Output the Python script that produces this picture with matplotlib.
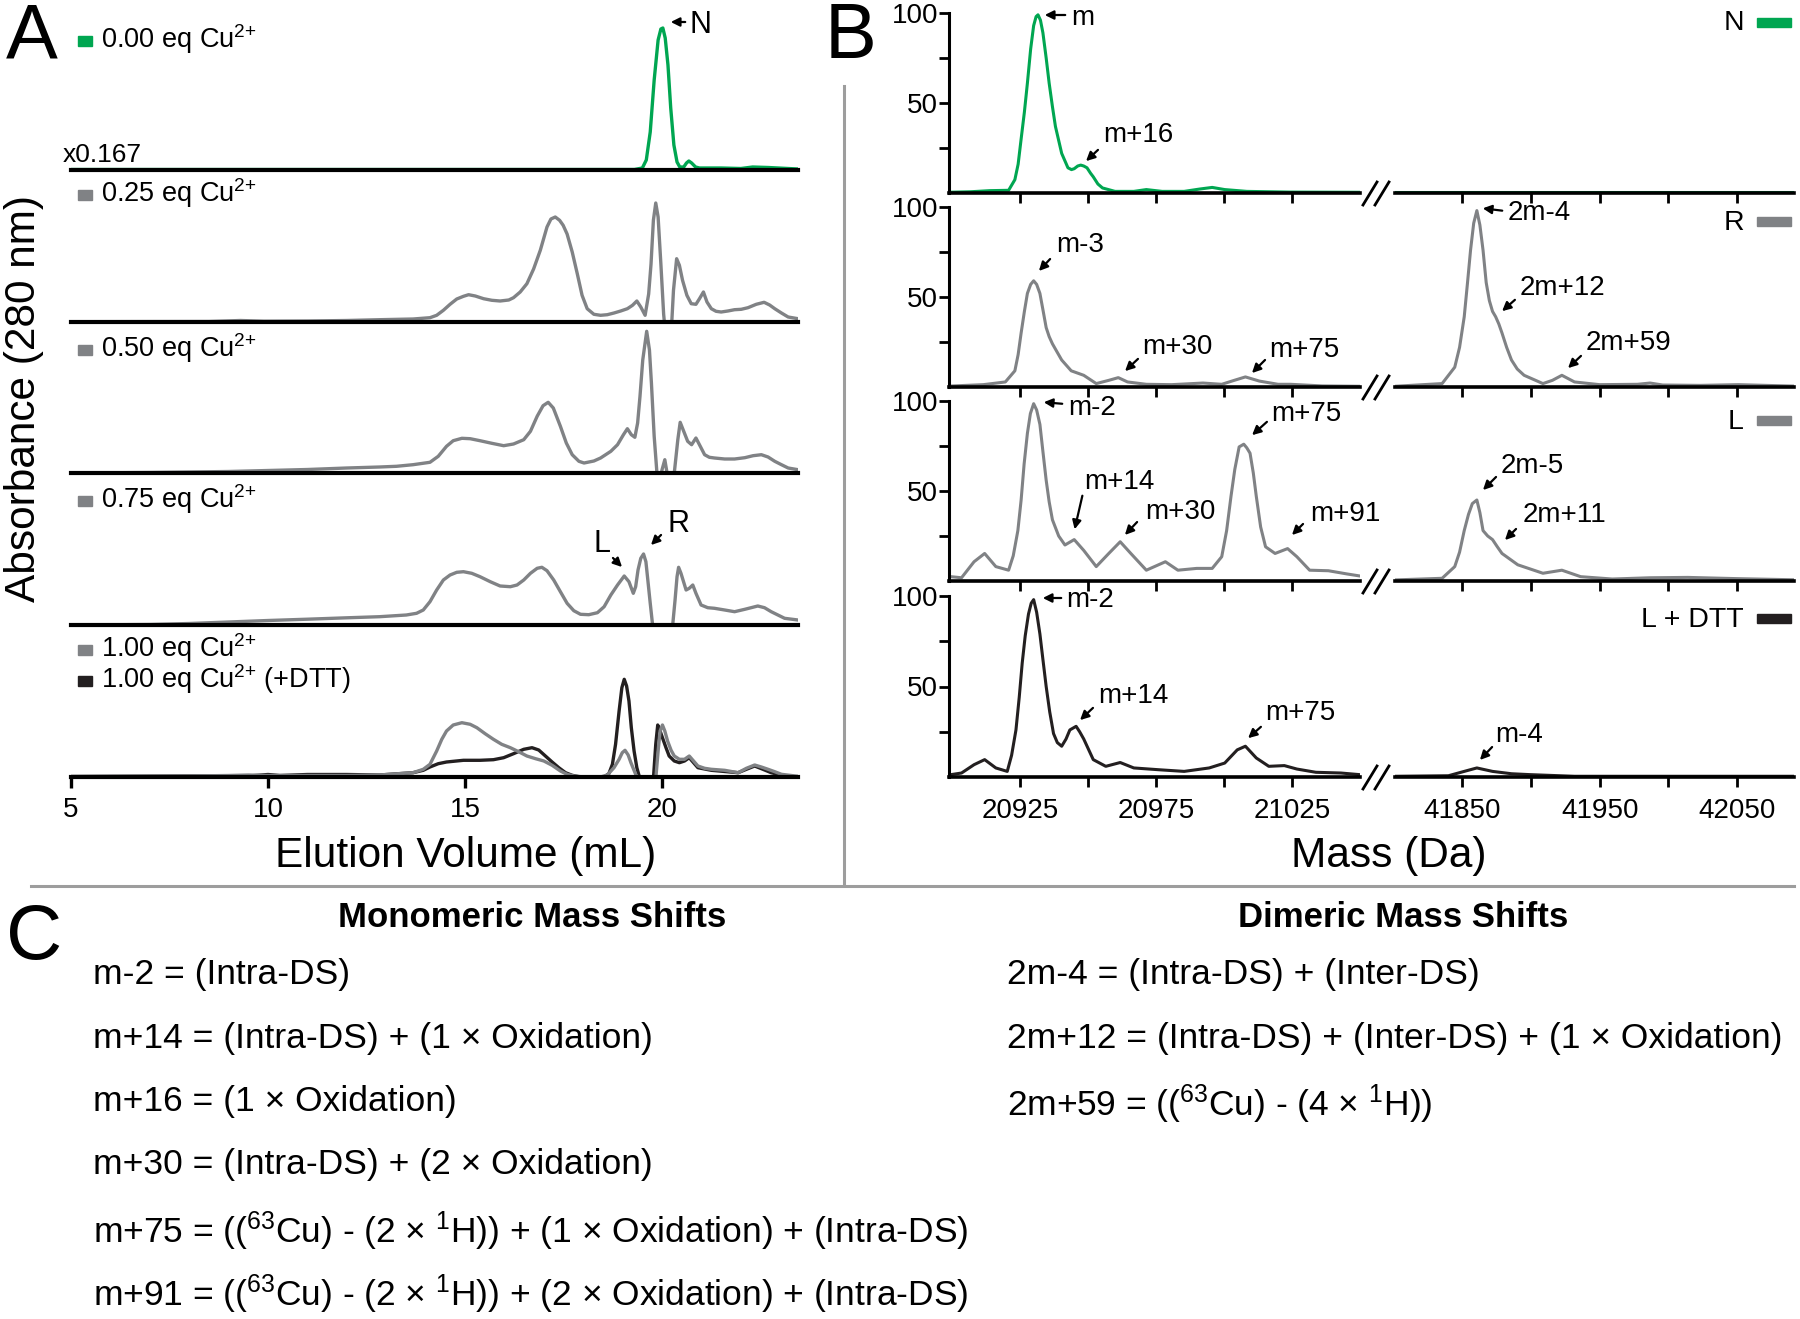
import matplotlib
matplotlib.use('Agg')
import matplotlib.pyplot as plt
from matplotlib.patches import Rectangle, FancyArrowPatch
from matplotlib.lines import Line2D

plt.rcParams['font.family'] = ['Liberation Sans', 'DejaVu Sans']
plt.rcParams['mathtext.fontset'] = 'custom'
plt.rcParams['mathtext.rm'] = 'Liberation Sans'
plt.rcParams['mathtext.it'] = 'Liberation Sans:italic'
plt.rcParams['mathtext.bf'] = 'Liberation Sans:bold'

W, H = 1800, 1319
GREEN = '#00a651'
GREY = '#808285'
BLACK = '#231f20'
SEP = '#9d9d9d'

# ---------------- panel A: SEC traces (elution volume mL, absorbance a.u.) ----------------
vol_000 = [5, 10, 15, 19.3, 19.5, 19.6, 19.7, 19.8, 19.9, 19.97, 20.02, 20.08, 20.15, 20.22,
           20.3, 20.38, 20.45, 20.55, 20.62, 20.68, 20.75, 20.85, 20.95, 21.5, 22.0, 22.3,
           22.7, 23.45]
abs_000 = [0.5, 0.5, 0.5, 0.5, 2, 10, 38, 90, 130, 141, 142, 132, 105, 62,
           25, 8, 3, 3, 7, 9, 7, 3, 2, 2, 1.5, 3,
           2.5, 1]

vol_025 = [5, 8.5, 9.3, 9.9, 11, 12, 12.83, 13.68, 14.11, 14.28, 14.45, 14.62, 14.79, 14.96,
           15.09, 15.26, 15.47, 15.68, 15.89, 16.11, 16.23, 16.40, 16.57, 16.74, 16.91, 17.08,
           17.18, 17.29, 17.40, 17.49, 17.59, 17.72, 17.85, 17.97, 18.10, 18.27, 18.44, 18.61,
           18.78, 18.95, 19.12, 19.25, 19.36, 19.46, 19.57, 19.66, 19.72, 19.78, 19.84, 19.90,
           19.97, 20.04, 20.07, 20.14, 20.24, 20.29, 20.37, 20.44, 20.52, 20.63, 20.74, 20.86,
           20.95, 21.05, 21.14, 21.25, 21.37, 21.50, 21.67, 21.84, 22.01, 22.18, 22.39, 22.59,
           22.73, 22.86, 23.03, 23.20, 23.45]
abs_025 = [0.3, 0.5, 1.5, 0.8, 1, 1.5, 2.3, 3, 4.3, 6.7, 11.7, 17.7, 23, 25.7,
           27.3, 26, 23.3, 21.7, 21, 22, 24.3, 30, 38.3, 53, 71.7, 95,
           103, 105, 101.7, 96.7, 88, 70, 48, 26.7, 13.3, 7.7, 6.7, 7.3,
           9, 11, 13.3, 16.7, 21, 15, 6.7, 28, 58, 101.7, 119, 105,
           58, 8, -5, -15, -5, 31.7, 63.3, 56.7, 41.7, 26.7, 18.3, 17.7,
           23.3, 30, 20, 13.3, 10.7, 10, 11, 12.3, 12.7, 14.3, 17.7, 19.7,
           17, 13.3, 9, 5, 3.3]

vol_050 = [5, 7, 9, 10, 11, 12, 12.83, 13.26, 13.68, 14.11, 14.32, 14.53, 14.70, 14.92,
           15.13, 15.38, 15.68, 15.98, 16.23, 16.49, 16.66, 16.83, 16.98, 17.11, 17.24, 17.42,
           17.57, 17.72, 17.89, 18.02, 18.27, 18.44, 18.70, 18.87, 19.02, 19.12, 19.22, 19.31,
           19.38, 19.44, 19.51, 19.61, 19.68, 19.73, 19.80, 19.87, 19.93, 20.00, 20.07, 20.14,
           20.20, 20.31, 20.40, 20.46, 20.55, 20.65, 20.75, 20.86, 20.97, 21.08, 21.20, 21.33,
           21.59, 21.84, 22.10, 22.31, 22.52, 22.69, 22.86, 23.03, 23.20, 23.45]
abs_050 = [0, 0.5, 1.5, 2.5, 3.5, 5, 6, 6.7, 8.3, 10.7, 16.7, 26.7, 32.3, 34.7,
           34.3, 32.3, 29.7, 27.3, 29, 33.3, 41.7, 56.7, 67.3, 70.7, 65, 46.7,
           30, 18.3, 11.7, 10, 12, 15, 21.7, 28.3, 38.3, 44.3, 38.3, 35.7,
           50, 76.7, 113, 141.7, 123, 90, 36.7, 0, -10, 3.3, 13.3, -3,
           -7, 0, 33.3, 50.7, 41.7, 31.7, 28.3, 35, 26.7, 18.3, 15.7, 15,
           14, 14, 15.3, 17.3, 18.3, 16, 11.7, 8.3, 5, 3.3]

vol_075 = [5, 7, 8, 9, 10, 11, 12, 12.83, 13.51, 13.77, 13.94, 14.11, 14.28, 14.45, 14.62,
           14.79, 14.96, 15.17, 15.38, 15.64, 15.89, 16.15, 16.32, 16.49, 16.66, 16.83, 16.95,
           17.08, 17.25, 17.42, 17.59, 17.76, 17.93, 18.14, 18.36, 18.53, 18.70, 18.87, 19.04,
           19.16, 19.27, 19.33, 19.39, 19.46, 19.53, 19.59, 19.63, 19.70, 19.76, 19.89, 20.14,
           20.27, 20.33, 20.38, 20.42, 20.48, 20.61, 20.69, 20.78, 20.86, 20.99, 21.16, 21.33,
           21.59, 21.84, 22.10, 22.43, 22.60, 22.77, 22.94, 23.11, 23.45]
abs_075 = [0, 0.5, 1.5, 3, 4.5, 5.8, 7.2, 8.3, 10, 11.7, 15, 23.3, 35, 45, 50,
           52.7, 53.3, 51.7, 48.3, 43.3, 39, 38.3, 40, 45, 51.7, 56.7, 57.7,
           54.3, 45, 33.3, 21.7, 14.3, 10.7, 10.3, 12.3, 18.3, 30, 40, 49,
           43.3, 31.7, 38.3, 55, 66.7, 71, 63.3, 48.3, 21.7, 0, -15, -15,
           0, 25, 48.3, 57.7, 51.7, 35, 36.7, 40, 31.7, 20, 17.3, 16.7,
           15, 13.3, 15.7, 19, 17.3, 13.3, 10, 6.7, 5]

vol_100 = [5, 8, 9, 9.5, 10, 11, 12, 12.83, 13.68, 13.94, 14.11, 14.28, 14.41, 14.53, 14.70,
           14.92, 15.13, 15.30, 15.51, 15.72, 15.93, 16.15, 16.36, 16.57, 16.79, 17.00, 17.21,
           17.42, 17.59, 17.76, 18.02, 18.44, 18.61, 18.78, 18.91, 18.99, 19.06, 19.14, 19.21,
           19.33, 19.42, 19.63, 19.84, 19.90, 19.95, 20.01, 20.07, 20.14, 20.23, 20.31, 20.44,
           20.57, 20.69, 20.80, 20.91, 21.08, 21.25, 21.59, 21.93, 22.14, 22.35, 22.52, 22.69,
           22.86, 23.03, 23.45]
abs_100 = [0.5, 1, 1.5, 2, 1.5, 1.5, 1.5, 2, 4.3, 7.7, 12.7, 26, 37.7, 46, 52,
           54.3, 52.7, 49.3, 43.3, 37.7, 32.7, 29.3, 25.3, 21, 18.3, 16, 11.7,
           6, 2.7, 1, 0, 0, 2, 9.3, 17.7, 24.3, 26.7, 22, 14.3,
           2.7, -2, -7, -2, 26, 46, 52, 46, 36, 26.7, 21, 17.7,
           17.7, 21, 16, 11, 8.7, 7.7, 6.7, 4.3, 8.7, 12, 10, 7.7,
           5.3, 2.7, 0.7]

vol_dtt = [5, 8, 9.5, 10, 10.3, 11, 12, 12.83, 13.68, 13.94, 14.11, 14.32, 14.53, 14.96, 15.38,
           15.72, 15.98, 16.23, 16.49, 16.70, 16.87, 17.04, 17.21, 17.38, 17.55, 17.72, 17.93,
           18.53, 18.65, 18.74, 18.82, 18.91, 18.98, 19.04, 19.10, 19.16, 19.22, 19.29, 19.36,
           19.44, 19.63, 19.78, 19.84, 19.89, 19.95, 20.01, 20.10, 20.18, 20.31, 20.44, 20.57,
           20.69, 20.80, 20.91, 21.25, 21.93, 22.14, 22.35, 22.56, 22.77, 23.11, 23.45]
abs_dtt = [0.5, 1, 1, 2.5, 1.5, 2.5, 2.5, 2, 4.3, 6.7, 10, 13.3, 15, 16.7, 16.7,
           17.3, 19.3, 23.3, 27.7, 29.3, 27, 21, 15, 9.3, 4.3, 1.7, 0,
           0, 3.3, 12.7, 32.7, 66, 89.3, 97.7, 91, 76, 49.3, 26, 9.3,
           -2, -7, -2, 32.7, 52, 46, 39.3, 29.3, 21, 16, 14.3, 16,
           19.3, 14.3, 9.3, 6.7, 4.3, 7.7, 11, 7.7, 4.3, 1, 0]

sec_panels = [
    [(vol_000, abs_000, GREEN)],
    [(vol_025, abs_025, GREY)],
    [(vol_050, abs_050, GREY)],
    [(vol_075, abs_075, GREY)],
    [(vol_dtt, abs_dtt, BLACK), (vol_100, abs_100, GREY)],
]
sec_labels = [
    [('0.00 eq Cu$^{2{+}}$', GREEN)],
    [('0.25 eq Cu$^{2{+}}$', GREY)],
    [('0.50 eq Cu$^{2{+}}$', GREY)],
    [('0.75 eq Cu$^{2{+}}$', GREY)],
    [('1.00 eq Cu$^{2{+}}$', GREY), ('1.00 eq Cu$^{2{+}}$ (+DTT)', BLACK)],
]
sec_ticks = [5, 10, 15, 20]

# ---------------- panel B: deconvoluted mass spectra (Da, relative intensity) ----------------
mass_n_lo = [20899.0, 20907.0, 20913.9, 20920.9, 20923.2, 20924.4, 20925.5, 20926.7, 20927.8,
             20929.0, 20930.1, 20931.0, 20931.7, 20932.6, 20933.5, 20934.7, 20935.8, 20937.0,
             20938.1, 20940.4, 20942.7, 20944.0, 20945.0, 20946.3, 20947.4, 20948.5, 20949.7,
             20951.0, 20952.0, 20953.7, 20955.4, 20960.0, 20966.9, 20971.5, 20977.3, 20985.4,
             20991.1, 20995.7, 21000.3, 21008.4, 21024.5, 21049.9]
int_n_lo = [0.4, 0.7, 1.3, 1.5, 7.4, 16, 30, 45, 61,
            80, 93, 98, 99, 96, 89, 75, 61, 48,
            37, 22, 14, 13, 13.5, 15, 15.5, 15, 14,
            11, 9, 5, 2.8, 0.9, 0.9, 1.9, 0.9, 0.9,
            2.2, 3.1, 1.9, 0.9, 0.5, 0.4]
mass_n_hi = [41801, 41900, 42000, 42097]
int_n_hi = [0.3, 0.3, 0.3, 0.3]

mass_r_lo = [20899.0, 20911.6, 20919.7, 20923.2, 20924.4, 20925.5, 20926.7, 20927.8, 20929.0,
             20930.1, 20931.2, 20932.4, 20933.5, 20934.7, 20935.8, 20937.0, 20938.5, 20940.4,
             20943.9, 20948.5, 20953.1, 20957.7, 20961.2, 20964.6, 20971.5, 20980.8, 20992.3,
             20999.2, 21003.8, 21007.9, 21013.0, 21019.9, 21024.5, 21036.1, 21049.9]
int_r_lo = [0.5, 1.3, 2.8, 9, 18, 30, 42, 52, 57,
            59, 57, 52, 43, 33, 28, 24, 20, 15,
            9, 6.5, 1.9, 3.7, 5.2, 2.8, 1.5, 1.3, 2.2,
            1.5, 3.7, 5.6, 3.3, 1.5, 1.5, 0.6, 0.4]
mass_r_hi = [41800.9, 41835.3, 41844.5, 41848.0, 41851.4, 41853.8, 41856.0, 41858.3, 41860.6,
             41862.8, 41865.1, 41867.4, 41869.7, 41872.0, 41874.3, 41876.6, 41878.9, 41882.3,
             41885.8, 41890.0, 41895.0, 41908.7, 41915.6, 41922.5, 41931.7, 41950.0, 41977.5,
             41986.7, 41995.9, 42023.4, 42050.9, 42096.8]
int_r_hi = [0.4, 1.9, 11, 22, 39, 58, 76, 91, 98,
            90, 76, 58, 48, 42, 39, 35, 30, 22,
            15, 10, 6.5, 1.9, 3.7, 6.5, 2.8, 1.3, 1.5,
            2.2, 1.1, 0.9, 1.3, 0.4]

mass_l_lo = [20899.7, 20903.6, 20908.2, 20912.1, 20916.2, 20920.9, 20922.6, 20924.3, 20925.5,
             20926.6, 20927.8, 20928.9, 20930.1, 20931.2, 20932.4, 20933.5, 20934.7, 20935.8,
             20937.0, 20939.3, 20941.6, 20945.0, 20948.5, 20953.1, 20957.7, 20961.9, 20965.8,
             20971.5, 20978.5, 20983.1, 20990.0, 20995.7, 20999.2, 21001.0, 21002.6, 21004.0,
             21005.6, 21007.3, 21008.4, 21009.6, 21010.8, 21011.9, 21013.5, 21015.3, 21018.8,
             21023.4, 21026.8, 21031.5, 21038.4, 21045.3, 21049.9]
int_l_lo = [2.4, 1.8, 10.7, 15.3, 8, 6, 14, 28, 45,
            65, 82, 93, 98.5, 95, 87, 72, 56, 44,
            34, 25, 20, 23, 17, 8, 15.3, 21.8, 15.3,
            6, 10.7, 6, 7, 7, 13.5, 28, 47, 62,
            74.5, 76, 74, 71, 60, 47, 30, 19, 15.3,
            18, 13.5, 6, 5.7, 3.9, 2.8]
mass_l_hi = [41800.9, 41835.3, 41844.5, 41848.0, 41851.4, 41854.5, 41857.3, 41860.6, 41862.8,
             41865.1, 41868.5, 41872.0, 41875.5, 41878.9, 41890.4, 41908.7, 41922.5, 41936.2,
             41959.2, 41986.7, 42014.2, 42050.9, 42096.8]
int_l_hi = [0.6, 1.5, 8, 16, 28, 37, 43, 45, 38,
            28, 25, 23, 19, 15.3, 9, 4.3, 6, 2.4,
            1.1, 1.8, 2, 1.3, 0.6]

mass_d_lo = [20899.7, 20903.6, 20908.2, 20912.1, 20916.2, 20920.4, 20922.0, 20923.6, 20924.8,
             20925.9, 20927.0, 20928.2, 20929.2, 20930.1, 20931.2, 20932.4, 20933.5, 20934.7,
             20936.0, 20937.4, 20938.8, 20940.4, 20942.0, 20943.4, 20945.7, 20947.0, 20948.5,
             20952.0, 20956.6, 20961.9, 20966.9, 20976.2, 20985.4, 20994.6, 21000.3, 21004.9,
             21007.9, 21011.9, 21016.5, 21022.2, 21026.8, 21033.8, 21043.0, 21049.9]
int_d_lo = [1.3, 2.2, 6.8, 9.6, 5, 3.1, 12, 26, 44,
            63, 78, 90, 96, 98, 91, 79, 65, 50,
            36, 24, 19, 17, 21, 26, 28, 25, 21,
            9.6, 5.9, 8, 5, 4, 3.1, 5, 7.7, 15,
            17, 10.5, 5.9, 6.3, 4.4, 2.6, 2.2, 1.3]
mass_d_hi = [41800.9, 41839.9, 41851.4, 41860.6, 41872.0, 41885.8, 41899.5, 41931.7, 42096.8]
int_d_hi = [0.4, 0.7, 3.1, 5, 3.1, 1.8, 1.3, 0.4, 0.4]

ms_rows = [
    ('N', GREEN, mass_n_lo, int_n_lo, mass_n_hi, int_n_hi),
    ('R', GREY, mass_r_lo, int_r_lo, mass_r_hi, int_r_hi),
    ('L', GREY, mass_l_lo, int_l_lo, mass_l_hi, int_l_hi),
    ('L + DTT', BLACK, mass_d_lo, int_d_lo, mass_d_hi, int_d_hi),
]
lo_ticks = [20925, 20950, 20975, 21000, 21025]
lo_labels = ['20925', '', '20975', '', '21025']
hi_ticks = [41850, 41900, 41950, 42000, 42050]
hi_labels = ['41850', '', '41950', '', '42050']

# peak labels in B: (text, text x, text baseline, arrow tail, arrow head)  [pixels]
ms_notes = [
    ('m', 1071, 25, (1068, 15), (1042, 15)),
    ('m+16', 1103, 142, (1100, 148), (1084, 163)),
    ('m-3', 1056, 252, (1052, 257), (1037, 273)),
    ('m+30', 1142, 354, (1140, 357), (1123, 373)),
    ('m+75', 1269, 357, (1267, 358), (1250, 375)),
    ('2m-4', 1508, 220, (1505, 211), (1480, 208)),
    ('2m+12', 1520, 295, (1517, 298), (1500, 313)),
    ('2m+59', 1586, 350, (1583, 354), (1566, 370)),
    ('m-2', 1068, 415, (1065, 404), (1041, 402)),
    ('m+75', 1271, 421, (1269, 420), (1250, 437)),
    ('m+14', 1084, 489, (1083, 493), (1074, 532)),
    ('m+30', 1145, 519, (1139, 520), (1123, 537)),
    ('m+91', 1310, 521, (1305, 522), (1290, 537)),
    ('2m-5', 1501, 473, (1498, 475), (1481, 492)),
    ('2m+11', 1523, 522, (1518, 527), (1503, 542)),
    ('m-2', 1066, 607, (1064, 598), (1040, 598)),
    ('m+14', 1098, 703, (1095, 706), (1078, 722)),
    ('m+75', 1265, 720, (1263, 725), (1246, 740)),
    ('m-4', 1495, 742, (1494, 745), (1478, 762)),
]

# ---------------- panel C text ----------------
mono_lines = [
    'm-2 = (Intra-DS)',
    'm+14 = (Intra-DS) + (1 \u00d7 Oxidation)',
    'm+16 = (1 \u00d7 Oxidation)',
    'm+30 = (Intra-DS) + (2 \u00d7 Oxidation)',
    'm+75 = (($^{63}$Cu) - (2 \u00d7 $^{1}$H)) + (1 \u00d7 Oxidation) + (Intra-DS)',
    'm+91 = (($^{63}$Cu) - (2 \u00d7 $^{1}$H)) + (2 \u00d7 Oxidation) + (Intra-DS)',
]
mono_y = [984, 1048, 1111, 1174, 1243, 1306]
di_lines = [
    '2m-4 = (Intra-DS) + (Inter-DS)',
    '2m+12 = (Intra-DS) + (Inter-DS) + (1 \u00d7 Oxidation)',
    '2m+59 = (($^{63}$Cu) - (4 \u00d7 $^{1}$H))',
]
di_y = [984, 1048, 1116]

fig = plt.figure(figsize=(W / 100, H / 100), dpi=100)


def fx(x):
    return x / W


def fy(y):
    return 1 - y / H


def px_axes(left, top, right, bottom):
    return fig.add_axes([fx(left), fy(bottom), (right - left) / W, (bottom - top) / H])


def arrow(tail, head):
    fig.add_artist(FancyArrowPatch((fx(tail[0]), fy(tail[1])), (fx(head[0]), fy(head[1])),
                                   transform=fig.transFigure, arrowstyle='-|>',
                                   mutation_scale=13, lw=1.6, color='black'))


# ---------------- draw panel A ----------------
sec_base = [170, 322, 473, 625, 777]
sec_label_y = [[48], [202], [357], [508], [657, 688]]
for i, traces in enumerate(sec_panels):
    ax = px_axes(71, sec_base[i] - 150, 798, sec_base[i])
    for vol, ab, col in traces:
        ax.plot(vol, ab, color=col, lw=2.4, solid_joinstyle='round')
    ax.set_xlim(5, 23.45)
    ax.set_ylim(0, 150)
    for s in ['top', 'left', 'right']:
        ax.spines[s].set_visible(False)
    ax.spines['bottom'].set_linewidth(3)
    ax.set_yticks([])
    ax.patch.set_alpha(0)
    if i == len(sec_panels) - 1:
        ax.set_xticks(sec_ticks)
        ax.tick_params(axis='x', direction='out', length=8, width=2.4, labelsize=20, pad=6.5)
    else:
        ax.set_xticks([])
    for (lab, col), yb in zip(sec_labels[i], sec_label_y[i]):
        fig.patches.append(Rectangle((fx(78), fy(yb - 2)), 14 / W, 10 / H,
                                     transform=fig.transFigure, color=col))
        fig.text(fx(101), fy(yb), lab, fontsize=19.5, va='baseline', ha='left')

fig.text(fx(63), fy(162), 'x0.167', fontsize=19, va='baseline', ha='left')
fig.text(fx(690), fy(33), 'N', fontsize=22, va='baseline', ha='left')
arrow((688, 22), (668, 22))
fig.text(fx(593), fy(552), 'L', fontsize=22, va='baseline', ha='left')
arrow((611, 556), (624, 569))
fig.text(fx(667), fy(532), 'R', fontsize=22, va='baseline', ha='left')
arrow((663, 533), (649, 547))

fig.text(fx(466), fy(867), 'Elution Volume (mL)', fontsize=30.5, ha='center', va='baseline')
fig.text(fx(24), fy(399), 'Absorbance (280 nm)', fontsize=30.5, ha='center', va='center',
         rotation=90)

# ---------------- draw panel B ----------------
ms_box = [(13, 193), (207, 387), (401, 581), (596, 777)]
ms_leg_y = [(30, 22), (230, 221), (429, 420), (627, 618)]
for i, (name, col, mlo, ilo, mhi, ihi) in enumerate(ms_rows):
    top, base = ms_box[i]
    last = i == len(ms_rows) - 1
    axl = px_axes(949, top, 1360, base)
    axr = px_axes(1395, top, 1794, base)
    axl.plot(mlo, ilo, color=col, lw=2.2, solid_joinstyle='round')
    axr.plot(mhi, ihi, color=col, lw=2.2, solid_joinstyle='round')
    axl.set_xlim(20899, 21050)
    axr.set_xlim(41801, 42091.5)
    for ax in (axl, axr):
        ax.set_ylim(0, 100)
        ax.patch.set_alpha(0)
        ax.spines['top'].set_visible(False)
        ax.spines['right'].set_visible(False)
        ax.spines['bottom'].set_linewidth(2.6)
        ax.tick_params(direction='out', length=7, width=2, labelsize=20, pad=8)
    axr.spines['left'].set_visible(False)
    axr.set_yticks([])
    axl.spines['left'].set_linewidth(2.2)
    axl.set_yticks([25, 50, 75, 100])
    axl.set_yticklabels(['', '50', '', '100'])
    axl.tick_params(axis='y', pad=1)
    axl.set_xticks(lo_ticks)
    axr.set_xticks(hi_ticks)
    if last:
        axl.set_xticklabels(lo_labels)
        axr.set_xticklabels(hi_labels)
    else:
        axl.set_xticklabels([])
        axr.set_xticklabels([])
    # axis break marks
    for x0 in (1363, 1375):
        fig.add_artist(Line2D([fx(x0), fx(x0 + 14)], [fy(base + 12), fy(base - 11)],
                              transform=fig.transFigure, color='black', lw=2))
    tb, rc = ms_leg_y[i]
    fig.text(fx(1744), fy(tb), name, fontsize=20.5, ha='right', va='baseline')
    fig.patches.append(Rectangle((fx(1757), fy(rc + 5)), 34 / W, 9 / H,
                                 transform=fig.transFigure, color=col))

for txt, tx, ty, tail, head in ms_notes:
    fig.text(fx(tx), fy(ty), txt, fontsize=20, ha='left', va='baseline')
    arrow(tail, head)

fig.text(fx(1389), fy(867), 'Mass (Da)', fontsize=30.5, ha='center', va='baseline')

# ---------------- separators and panel letters ----------------
fig.add_artist(Line2D([fx(844), fx(844)], [fy(86), fy(884)], transform=fig.transFigure,
                      color=SEP, lw=2.2))
fig.add_artist(Line2D([fx(31), fx(1794)], [fy(886), fy(886)], transform=fig.transFigure,
                      color=SEP, lw=2.2))
fig.text(fx(32), fy(38), 'A', fontsize=56, ha='center', va='center')
fig.text(fx(851), fy(38), 'B', fontsize=56, ha='center', va='center')
fig.text(fx(34), fy(938), 'C', fontsize=56, ha='center', va='center')

# ---------------- panel C ----------------
fig.text(fx(532), fy(927), 'Monomeric Mass Shifts', fontsize=25, fontweight='bold',
         ha='center', va='baseline')
fig.text(fx(1403), fy(927), 'Dimeric Mass Shifts', fontsize=25, fontweight='bold',
         ha='center', va='baseline')
for s, y in zip(mono_lines, mono_y):
    fig.text(fx(93), fy(y), s, fontsize=25.5, ha='left', va='baseline')
for s, y in zip(di_lines, di_y):
    fig.text(fx(1007), fy(y), s, fontsize=25.5, ha='left', va='baseline')

fig.savefig('out.png', dpi=100)
